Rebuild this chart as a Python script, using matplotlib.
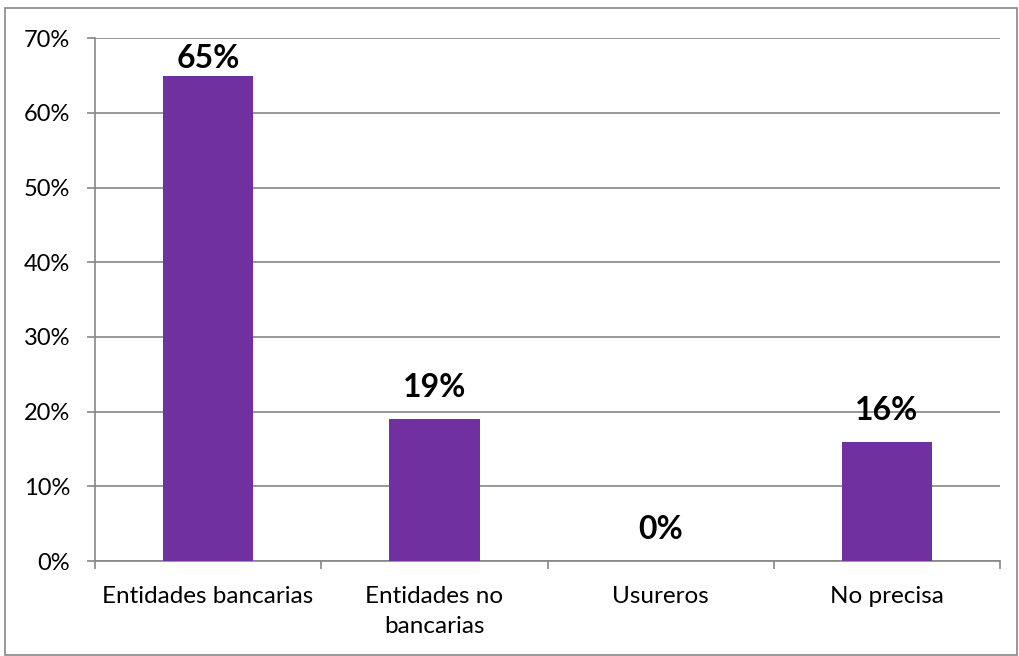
import matplotlib
matplotlib.use("Agg")
import matplotlib.pyplot as plt
from matplotlib.patches import Rectangle
from matplotlib.ticker import FuncFormatter, MultipleLocator

plt.rcParams['font.family'] = ['Lato', 'DejaVu Sans']

categories = ["Entidades bancarias", "Entidades no\nbancarias", "Usureros", "No precisa"]
values = [65, 19, 0, 16]
labels = ["65%", "19%", "0%", "16%"]

bar_color = "#7030A0"
grid_color = "#868686"

fig = plt.figure(figsize=(10.19, 6.56), dpi=100)
ax = fig.add_axes([0.0932, 0.1448, 0.8882, 0.797])

x = list(range(len(categories)))
ax.bar(x, values, width=0.4, color=bar_color, zorder=3)

# labels sit above the bar, but are kept inside the plot area
for xi, v, lab in zip(x, values, labels):
    y = min(v + 4.2, 67.3)
    ax.text(xi, y, lab, ha="center", va="center", fontsize=23,
            fontweight="bold", color="black", zorder=4)

ax.set_xlim(-0.5, 3.5)
ax.set_ylim(0, 70)
ax.yaxis.set_major_locator(MultipleLocator(10))
ax.yaxis.set_major_formatter(FuncFormatter(lambda v, p: f"{int(v)}%"))
ax.grid(axis="y", color=grid_color, linewidth=1.2, zorder=0)

ax.set_xticks(x)
ax.set_xticklabels(categories, fontsize=17.5, linespacing=1.55)
ax.set_xticks([-0.5, 0.5, 1.5, 2.5, 3.5], minor=True)
ax.tick_params(axis="x", which="major", length=0, pad=18)
ax.tick_params(axis="x", which="minor", length=6, color=grid_color, width=1.2)
ax.tick_params(axis="y", length=6, color=grid_color, width=1.2, labelsize=17, pad=12)

for s in ["top", "right"]:
    ax.spines[s].set_visible(False)
for s in ["left", "bottom"]:
    ax.spines[s].set_color(grid_color)
    ax.spines[s].set_linewidth(1.2)

fig.patches.append(Rectangle((5 / 1019, 0.002), 1 - 7 / 1019, 1 - 8 / 656 - 0.002,
                             transform=fig.transFigure, fill=False,
                             edgecolor=grid_color, linewidth=1.2))

fig.savefig("out.png", dpi=100)
